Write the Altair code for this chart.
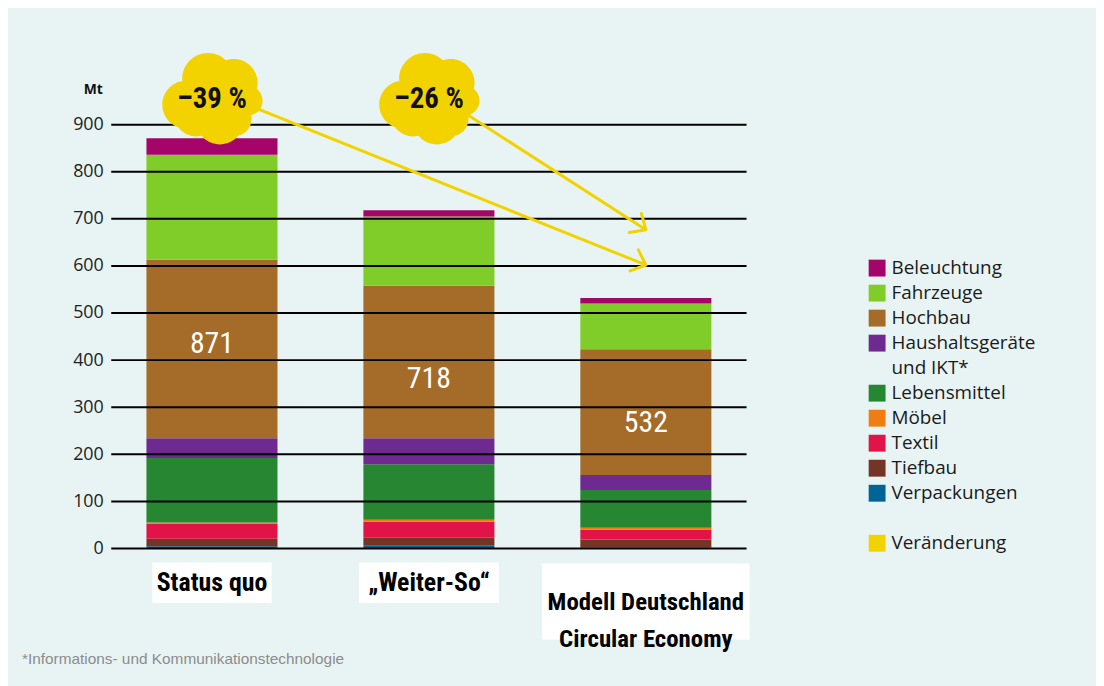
import altair as alt
import pandas as pd

# ---------------- data ----------------
scenarios = ["Status quo", "„Weiter-So“", "Modell Deutschland\nCircular Economy"]
sectors = ["Verpackungen", "Tiefbau", "Textil", "Möbel", "Lebensmittel",
           "Haushaltsgeräte", "Hochbau", "Fahrzeuge", "Beleuchtung"]  # bottom -> top
status_quo = [5, 16, 32, 2, 137, 42, 379, 223, 35]
weiter_so = [6, 17, 34, 4, 118, 55, 324, 147, 13]
modell_ce = [2, 17, 21, 4, 80, 32, 267, 97, 12]
totals = [871, 718, 532]
total_label_y = [435, 360, 267]
changes = ["–39 %", "–26 %"]
change_y = [955, 955]
arrow_start_x = [0.09, 1.08]
arrow_start_y = [956, 950]
arrow_end_x = [2.0, 2.0]
arrow_end_y = [602, 677]
y_ticks = list(range(0, 901, 100))
footnote = "*Informations- und Kommunikationstechnologie"

legend_items = ["Beleuchtung", "Fahrzeuge", "Hochbau", "Haushaltsgeräte", "und IKT*",
                "Lebensmittel", "Möbel", "Textil", "Tiefbau", "Verpackungen", " ",
                "Veränderung"]

# ---------------- styles ----------------
YELLOW = "#f2d300"
palette = {
    "Beleuchtung": "#a50468", "Fahrzeuge": "#80cc28", "Hochbau": "#a56b28",
    "Haushaltsgeräte": "#6f2a91", "und IKT*": "transparent", "Lebensmittel": "#268632",
    "Möbel": "#f07d12", "Textil": "#e01446", "Tiefbau": "#743526",
    "Verpackungen": "#006496", " ": "transparent", "Veränderung": YELLOW,
}
arrow_angles = [21.6, 32.5]
box_halfwidth = [0.275, 0.322, 0.478]
NARROW = "Roboto Condensed, DejaVu Sans Condensed, sans-serif"


def circle(cx, cy, r):
    k = 0.5523 * r
    f = lambda v: f"{v:.3f}"
    return (f"M{f(cx + r)},{f(cy)} C{f(cx + r)},{f(cy + k)} {f(cx + k)},{f(cy + r)} {f(cx)},{f(cy + r)} "
            f"C{f(cx - k)},{f(cy + r)} {f(cx - r)},{f(cy + k)} {f(cx - r)},{f(cy)} "
            f"C{f(cx - r)},{f(cy - k)} {f(cx - k)},{f(cy - r)} {f(cx)},{f(cy - r)} "
            f"C{f(cx + k)},{f(cy - r)} {f(cx + r)},{f(cy - k)} {f(cx + r)},{f(cy)} Z")


lobes = [(-0.08, -0.4, 0.52), (0.44, -0.32, 0.48), (0.72, 0.04, 0.3), (0.44, 0.4, 0.36),
         (0.16, 0.44, 0.48), (-0.52, 0.12, 0.48), (-0.32, 0.32, 0.44), (0, 0, 0.6)]
CLOUD = " ".join(circle(*l) for l in lobes)
CHEVRON = "M-0.74,-0.67 L0,0 L-0.74,0.67"

# ---------------- tables ----------------
rows = []
for i, vals in enumerate([status_quo, weiter_so, modell_ce]):
    for r, (s, v) in enumerate(zip(sectors, vals)):
        rows.append({"pos": i, "sector": s, "value": v, "rank": r})
bars_df = pd.DataFrame(rows)
grid_df = pd.DataFrame({"tick": y_ticks})
tot_df = pd.DataFrame({"pos": [0, 1, 2], "y": total_label_y, "t": [str(t) for t in totals]})
cloud_df = pd.DataFrame({"pos": [0, 1], "y": change_y, "t": changes})
arrow_df = pd.DataFrame({"x": arrow_start_x, "y": arrow_start_y, "x2": arrow_end_x,
                         "y2": arrow_end_y, "angle": arrow_angles})
lab_df = pd.DataFrame({"pos": [0, 1, 2], "t": scenarios, "hw": box_halfwidth,
                       "multi": [s.count("\n") > 0 for s in scenarios]})
lab_df["x1"] = lab_df["pos"] - lab_df["hw"]
lab_df["x2"] = lab_df["pos"] + lab_df["hw"]
foot_df = pd.DataFrame({"t": [footnote]})

xscale = alt.Scale(domain=[-0.4414, 2.4414], nice=False, zero=False)
yscale = alt.Scale(domain=[0, 900], nice=False)
yaxis = alt.Axis(title="Mt", titleAngle=0, titleAlign="right", titleBaseline="alphabetic",
                 titleX=-9, titleY=-31, titleFont="Open Sans", titleFontSize=14,
                 titleFontWeight="bold", titleColor="#111", values=y_ticks, grid=False,
                 domain=False, ticks=False, tickSize=0, labelPadding=8, labelFont="Open Sans",
                 labelFontSize=18, labelColor="#222")

bars = alt.Chart(bars_df).mark_bar(size=132, orient="vertical").encode(
    x=alt.X("pos:Q", scale=xscale, axis=None),
    y=alt.Y("value:Q", stack="zero", scale=yscale, axis=yaxis),
    color=alt.Color("sector:N",
                    scale=alt.Scale(domain=legend_items, range=[palette[k] for k in legend_items]),
                    legend=alt.Legend(title=None, orient="none", legendX=762, legendY=135,
                                      symbolType="square", symbolSize=289, symbolStrokeWidth=0,
                                      labelFont="Open Sans", labelFontSize=19, labelColor="#1a1a1a",
                                      labelOffset=5, rowPadding=5.2, padding=0, labelLimit=300)),
    order=alt.Order("rank:Q", sort="ascending"),
)

grid = alt.Chart(grid_df).mark_rule(color="black", strokeWidth=2).encode(
    y=alt.Y("tick:Q", scale=yscale, axis=yaxis))

arrows = alt.Chart(arrow_df).mark_rule(color=YELLOW, strokeWidth=3).encode(
    x=alt.X("x:Q", scale=xscale, axis=None), y=alt.Y("y:Q", scale=yscale, axis=yaxis),
    x2="x2:Q", y2="y2:Q")

heads = alt.Chart(arrow_df).mark_point(shape=CHEVRON, filled=False, size=1156, strokeWidth=3,
                                       color=YELLOW, opacity=1, strokeCap="round",
                                       strokeJoin="round").encode(
    x=alt.X("x2:Q", scale=xscale, axis=None), y=alt.Y("y2:Q", scale=yscale, axis=yaxis),
    angle=alt.Angle("angle:Q", scale=None))

clouds = alt.Chart(cloud_df).mark_point(shape=CLOUD, filled=True, size=10000, color=YELLOW,
                                        opacity=1, strokeWidth=0).encode(
    x=alt.X("pos:Q", scale=xscale, axis=None), y=alt.Y("y:Q", scale=yscale, axis=yaxis))

cloud_txt = alt.Chart(cloud_df).mark_text(font=NARROW, fontSize=29, fontWeight="bold",
                                          color="#111", baseline="middle").encode(
    x=alt.X("pos:Q", scale=xscale, axis=None), y=alt.Y("y:Q", scale=yscale, axis=yaxis),
    text="t:N")

tot_txt = alt.Chart(tot_df).mark_text(font=NARROW, fontSize=30, color="white",
                                      baseline="middle").encode(
    x=alt.X("pos:Q", scale=xscale, axis=None), y=alt.Y("y:Q", scale=yscale, axis=yaxis),
    text="t:N")

box1 = alt.Chart(lab_df).transform_filter("!datum.multi").mark_rect(color="white").encode(
    x=alt.X("x1:Q", scale=xscale, axis=None), x2="x2:Q", y=alt.value(441), y2=alt.value(482))
box2 = alt.Chart(lab_df).transform_filter("datum.multi").mark_rect(color="white").encode(
    x=alt.X("x1:Q", scale=xscale, axis=None), x2="x2:Q", y=alt.value(442), y2=alt.value(519))

lab1 = alt.Chart(lab_df).transform_filter("!datum.multi").mark_text(
    font=NARROW, fontSize=26, fontWeight="bold", color="#000", baseline="middle").encode(
    x=alt.X("pos:Q", scale=xscale, axis=None), y=alt.value(462), text="t:N")
lab2 = alt.Chart(lab_df).transform_filter("datum.multi").mark_text(
    font=NARROW, fontSize=25, fontWeight="bold", color="#000", baseline="middle",
    lineBreak="\n", lineHeight=37).encode(
    x=alt.X("pos:Q", scale=xscale, axis=None), y=alt.value(481), text="t:N")

foot = alt.Chart(foot_df).mark_text(font="Liberation Sans, Arial, sans-serif", fontSize=15.5,
                                    color="#8c8c8c", align="left",
                                    baseline="alphabetic").encode(
    x=alt.value(-90), y=alt.value(543), text="t:N")

chart = alt.layer(bars, grid, arrows, heads, clouds, cloud_txt, tot_txt,
                  box1, box2, lab1, lab2, foot).properties(
    width=640, height=427,
    autosize=alt.AutoSizeParams(type="none"),
    padding={"left": 104, "top": 115, "right": 352, "bottom": 136},
    background="#e8f4f4",
).configure_view(stroke=None)

chart.save("out.html", embed_options={"renderer": "svg", "actions": False})
